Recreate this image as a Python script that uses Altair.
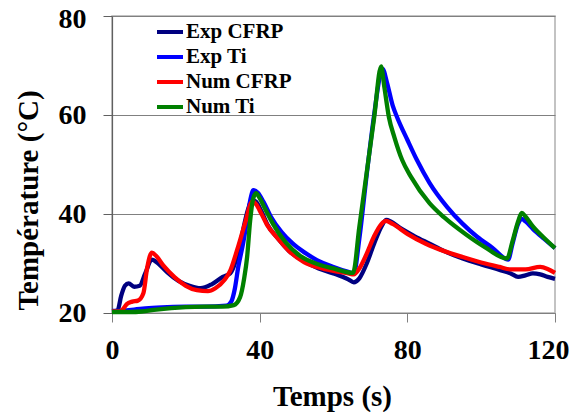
import altair as alt
import pandas as pd

series_names = ["Exp CFRP", "Exp Ti", "Num CFRP", "Num Ti"]
series_colors = ["#000080", "#0000FF", "#FF0000", "#008000"]

exp_cfrp_t = [0, 1.5, 2.5, 3.5, 4.5, 6, 7.5, 9, 10.8, 12, 13.5, 15, 18, 21, 24, 27, 30, 32, 33.5, 35, 36.5, 38, 39, 40.5, 42, 45, 48, 52, 56, 60, 64, 65.5, 67, 69, 71, 73, 74.3, 75.5, 78, 82, 86, 90, 95, 100, 105, 108, 110, 112, 114, 116, 118, 120]
exp_cfrp_v = [20.3, 20.5, 23.5, 25.5, 26, 25.3, 25.5, 28, 30.8, 30.3, 29.3, 28.2, 26.5, 25.5, 25, 25.8, 27.3, 28, 30.5, 35, 40, 42.8, 42.5, 40.5, 38, 35, 32.5, 30.5, 29, 28, 26.8, 26.2, 27, 30, 34, 37.5, 38.8, 38.5, 37.2, 35.5, 34, 32.5, 31, 29.8, 28.7, 28, 27.3, 27.6, 28, 27.8, 27.3, 26.9]

exp_ti_t = [0, 3, 6, 10, 15, 20, 25, 31, 32.3, 33.3, 34.2, 35.5, 36.6, 37.5, 38.3, 39.5, 41, 43, 46, 49, 52, 55.5, 60, 64, 65.5, 67, 69, 71, 72.5, 73.3, 74.5, 76, 77.2, 80, 82.6, 86, 90.8, 95, 98.9, 103, 107.3, 108.5, 110, 111, 112, 114, 117, 120]
exp_ti_v = [20.4, 20.5, 20.7, 21, 21.2, 21.3, 21.3, 21.5, 22.3, 25, 29.3, 34, 38.8, 43, 44.8, 44.3, 42.5, 39.5, 36.3, 34, 32.3, 30.7, 29.3, 28.3, 28, 35, 48, 60, 67.5, 69.3, 66.5, 62, 59.6, 55, 50.9, 46.3, 41.4, 38, 35.4, 33.2, 30.8, 34, 38, 39, 38.5, 37, 35, 33.1]

num_cfrp_t = [0, 2, 3, 4, 5.5, 7, 8.5, 9.5, 10.8, 12, 14, 17, 20, 23, 26, 28, 30.5, 32, 34, 36, 38, 39, 40.5, 42, 45, 48, 52, 56, 60, 64, 65.5, 67, 69, 71, 73, 74.2, 76, 80, 85, 90, 95, 100, 105, 108, 112, 116, 118, 120]
num_cfrp_v = [20.3, 20.3, 20.8, 21.8, 22.3, 22.5, 24, 29, 32.2, 31.5, 29.5, 27.2, 25.5, 24.6, 24.4, 25, 26.7, 28.5, 33, 38, 42.5, 42, 40, 37.8, 35, 32.5, 30.3, 29.2, 28.5, 28, 27.8, 29, 32, 35.5, 38, 38.6, 38, 36, 34, 32.5, 31.3, 30.2, 29.3, 28.8, 28.8, 29.3, 28.9, 28.1]

num_ti_t = [0, 5, 8, 12, 16, 20, 25, 30, 33, 34.7, 35.8, 36.6, 37.4, 38.2, 39, 40, 41.5, 43.6, 47, 51, 56, 60, 65.3, 67, 69, 71, 72.9, 73.8, 75, 76.5, 78.6, 81, 86, 90, 96, 101, 107, 108.5, 110, 111, 112, 114, 117, 120]
num_ti_v = [20.2, 20.2, 20.3, 20.7, 21, 21.2, 21.3, 21.3, 21.6, 23.2, 27, 31.3, 38.5, 43, 44.2, 43.2, 41, 38, 34.3, 31.5, 29.8, 29, 28.1, 37.4, 48.4, 59.4, 69.8, 65.5, 59.6, 55.5, 50.9, 47.5, 42.2, 39.3, 35.8, 33.3, 31, 34.5, 38.5, 40.2, 39.5, 37.5, 35.2, 33.1]

x_ticks = [0, 40, 80, 120]
y_ticks = [20, 40, 60, 80]

frames = []
for name, t, v in [
    ("Exp CFRP", exp_cfrp_t, exp_cfrp_v),
    ("Exp Ti", exp_ti_t, exp_ti_v),
    ("Num CFRP", num_cfrp_t, num_cfrp_v),
    ("Num Ti", num_ti_t, num_ti_v),
]:
    frames.append(pd.DataFrame({"t": t, "v": v, "s": name}))
df = pd.concat(frames, ignore_index=True)

FONT = "Liberation Serif"

chart = alt.Chart(df).mark_line(strokeWidth=4.3, interpolate="monotone").encode(
    x=alt.X("t:Q", scale=alt.Scale(domain=[0, 120], nice=False),
            axis=alt.Axis(values=x_ticks, title="Temps (s)", grid=False,
                          labelFontSize=28, labelFont=FONT, labelFontWeight="bold",
                          labelColor="black", labelBaseline="alphabetic", labelPadding=36,
                          labelFlush=False,
                          labelOffset={"condition": {"test": "datum.value == 120", "value": -7}, "value": 0},
                          tickSize=9, tickColor="#808080", domainColor="#808080",
                          titleFont=FONT, titleFontSize=29, titleFontWeight="bold",
                          titleColor="black", titleBaseline="alphabetic",
                          titleX=220, titleY=92, titleAlign="center")),
    y=alt.Y("v:Q", scale=alt.Scale(domain=[20, 80], nice=False),
            axis=alt.Axis(values=y_ticks, title="Température (°C)", grid=True,
                          gridColor="#808080", gridWidth=1.2,
                          labelFontSize=28, labelFont=FONT, labelFontWeight="bold",
                          labelColor="black", labelPadding=17, labelFlush=False,
                          labelOffset={"condition": {"test": "datum.value == 80", "value": 3}, "value": 0},
                          tickSize=9, tickColor="#606060", domainColor="#606060",
                          domainWidth=1.2,
                          titleFont=FONT, titleFontSize=29, titleFontWeight="bold",
                          titleColor="black", titleAngle=270, titleAlign="center",
                          titleBaseline="alphabetic", titleX=-75, titleY=184)),
    color=alt.Color("s:N", scale=alt.Scale(domain=series_names, range=series_colors),
                    sort=series_names,
                    legend=alt.Legend(orient="none", legendX=43, legendY=1, title=None,
                                      symbolType="stroke", symbolSize=676,
                                      symbolStrokeWidth=4, labelFont=FONT,
                                      labelFontSize=21, labelFontWeight="bold",
                                      labelColor="black", labelOffset=1,
                                      rowPadding=0)),
).properties(
    width=443, height=297,
    autosize=alt.AutoSizeParams(type="none"),
    padding={"left": 104, "top": 8, "right": 14, "bottom": 99},
).configure_view(stroke="#b0b0b0", strokeWidth=1.5)

chart.save("out.html", embed_options={"renderer": "svg", "actions": False})
